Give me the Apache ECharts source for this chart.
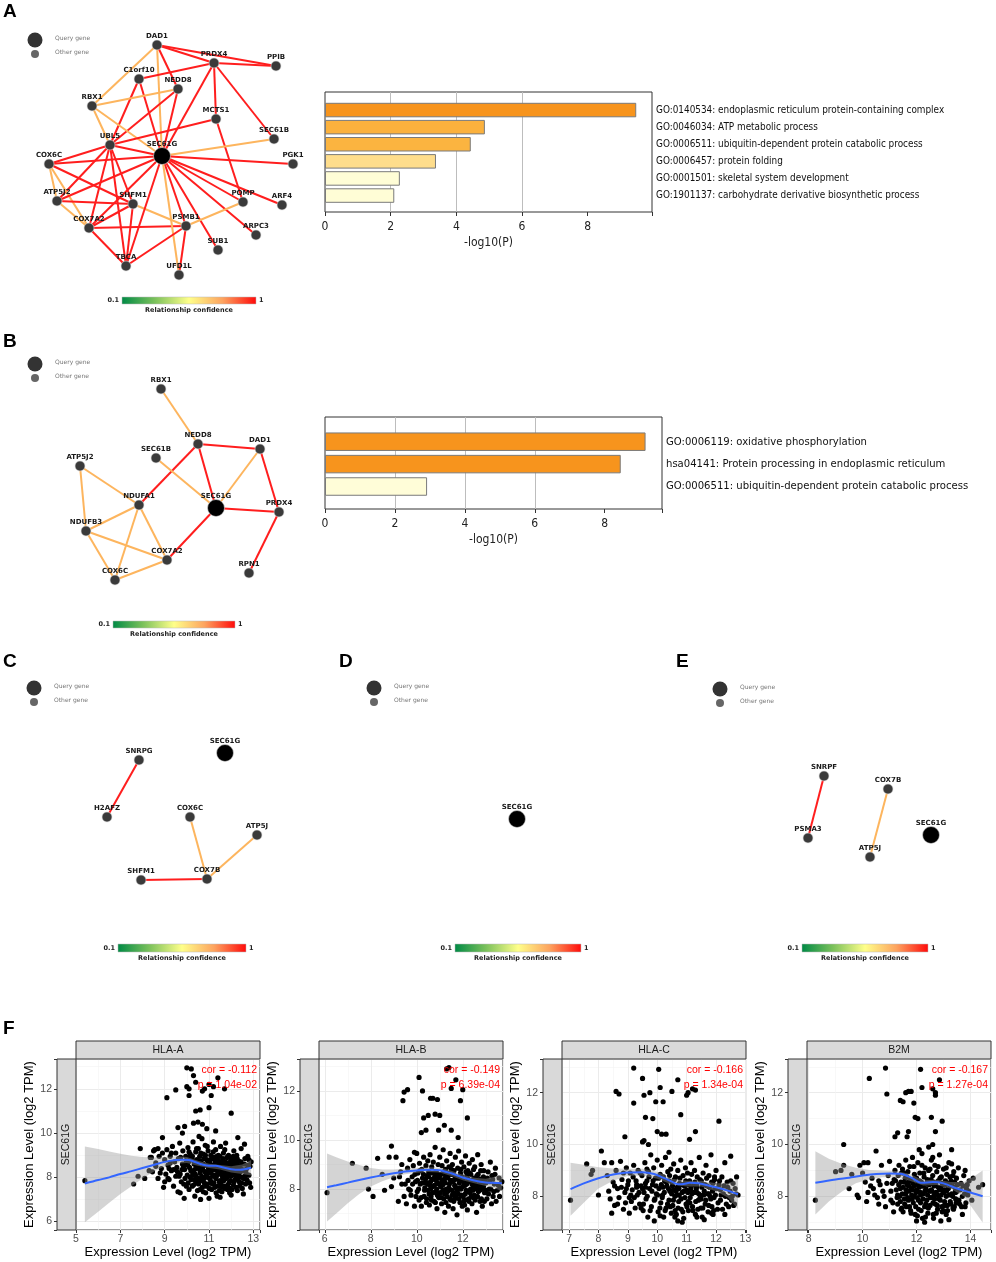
<!DOCTYPE html>
<html><head><meta charset="utf-8">
<script src="https://cdn.jsdelivr.net/npm/echarts/dist/echarts.min.js"></script>
<style>html,body{margin:0;padding:0;background:#fff}#c{width:996px;height:1262px}</style>
</head><body><div id="c"></div><script>
// ---------------- DATA ----------------
const R = 1.0, O = 0.7; // relationship confidence
const nodesA = [['SEC61G',162,156,1],['DAD1',157,45,0],['PRDX4',214,63,0],['PPIB',276,66,0],['C1orf10',139,79,0],['NEDD8',178,89,0],['RBX1',92,106,0],['MCTS1',216,119,0],['SEC61B',274,139,0],['UBL5',110,145,0],['COX6C',49,164,0],['PGK1',293,164,0],['ATP5J2',57,201,0],['SHFM1',133,204,0],['POMP',243,202,0],['ARF4',282,205,0],['COX7A2',89,228,0],['PSMB1',186,226,0],['ARPC3',256,235,0],['SUB1',218,250,0],['TBCA',126,266,0],['UFD1L',179,275,0]];
const edgesA = [['DAD1','PRDX4',R],['DAD1','PPIB',R],['PRDX4','PPIB',R],['DAD1','RBX1',O],['DAD1','SEC61G',O],['DAD1','NEDD8',R],['PRDX4','C1orf10',R],['PRDX4','MCTS1',R],['PRDX4','SEC61B',R],['PRDX4','SEC61G',R],['C1orf10','UBL5',R],['C1orf10','SEC61G',R],['NEDD8','RBX1',O],['NEDD8','UBL5',R],['NEDD8','SEC61G',R],['RBX1','UBL5',O],['RBX1','SEC61G',O],['MCTS1','UBL5',R],['MCTS1','POMP',R],['SEC61B','SEC61G',O],['PGK1','SEC61G',R],['UBL5','COX6C',R],['UBL5','SEC61G',R],['UBL5','ATP5J2',R],['UBL5','COX7A2',R],['UBL5','SHFM1',R],['UBL5','TBCA',R],['COX6C','SEC61G',R],['COX6C','SHFM1',R],['COX6C','ATP5J2',O],['COX6C','COX7A2',O],['ATP5J2','SHFM1',R],['ATP5J2','SEC61G',R],['ATP5J2','COX7A2',O],['COX7A2','SHFM1',R],['COX7A2','SEC61G',R],['COX7A2','PSMB1',R],['COX7A2','TBCA',R],['SHFM1','TBCA',R],['SHFM1','PSMB1',O],['SEC61G','TBCA',R],['SEC61G','PSMB1',R],['SEC61G','UFD1L',O],['SEC61G','SUB1',R],['SEC61G','ARPC3',R],['SEC61G','POMP',R],['SEC61G','ARF4',R],['PSMB1','POMP',O],['PSMB1','UFD1L',R],['PSMB1','TBCA',R]];
const nodesB = [['SEC61G',216,178,1],['RBX1',161,59,0],['NEDD8',198,114,0],['DAD1',260,119,0],['SEC61B',156,128,0],['ATP5J2',80,136,0],['NDUFA1',139,175,0],['PRDX4',279,182,0],['NDUFB3',86,201,0],['COX7A2',167,230,0],['RPN1',249,243,0],['COX6C',115,250,0]];
const edgesB = [['RBX1','NEDD8',O],['NEDD8','DAD1',R],['NEDD8','SEC61G',R],['NEDD8','NDUFA1',R],['DAD1','SEC61G',O],['DAD1','PRDX4',R],['SEC61G','PRDX4',R],['PRDX4','RPN1',R],['SEC61B','SEC61G',O],['SEC61G','COX7A2',R],['ATP5J2','NDUFA1',O],['ATP5J2','NDUFB3',O],['NDUFA1','NDUFB3',O],['NDUFA1','COX6C',O],['NDUFA1','COX7A2',O],['NDUFB3','COX7A2',O],['NDUFB3','COX6C',O],['COX6C','COX7A2',O]];
const nodesC = [['SEC61G',225,103,1],['SNRPG',139,110,0],['H2AFZ',107,167,0],['COX6C',190,167,0],['ATP5J',257,185,0],['SHFM1',141,230,0],['COX7B',207,229,0]];
const edgesC = [['SNRPG','H2AFZ',R],['COX6C','COX7B',O],['ATP5J','COX7B',O],['SHFM1','COX7B',R]];
const nodesD = [['SEC61G',187,169,1]];
const edgesD = [];
const nodesE = [['SEC61G',271,185,1],['SNRPF',164,126,0],['COX7B',228,139,0],['PSMA3',148,188,0],['ATP5J',210,207,0]];
const edgesE = [['SNRPF','PSMA3',R],['COX7B','ATP5J',O]];

const termsA = ['GO:0140534: endoplasmic reticulum protein-containing complex','GO:0046034: ATP metabolic process','GO:0006511: ubiquitin-dependent protein catabolic process','GO:0006457: protein folding','GO:0001501: skeletal system development','GO:1901137: carbohydrate derivative biosynthetic process'];
const logPA = [9.48, 4.87, 4.44, 3.38, 2.28, 2.11];
const termsB = ['GO:0006119: oxidative phosphorylation','hsa04141: Protein processing in endoplasmic reticulum','GO:0006511: ubiquitin-dependent protein catabolic process'];
const logPB = [9.17, 8.46, 2.92];

// Panel F scatter data [x, y]
const ptsHLAA = [[5.4,7.85],[7.6,7.7],[7.8,8.05],[7.9,9.3],[8.1,7.95],[8.3,8.3],[8.4,8.9],[8.5,9.2],[8.6,8.5],[8.7,9.3],[8.8,8.2],[8.9,9.8],[9.0,7.8],[9.1,11.6],[9.2,8.4],[9.3,9.1],[9.5,11.95],[9.7,7.3],[9.8,10.0],[9.9,10.3],[10.0,12.1],[10.0,12.95],[10.1,11.7],[10.1,12.0],[10.2,12.9],[10.3,12.6],[10.4,12.3],[10.4,11.0],[10.6,11.05],[10.5,10.5],[10.7,10.4],[10.7,11.9],[10.8,12.0],[10.9,10.2],[11.0,12.2],[11.1,11.7],[11.0,11.15],[11.2,12.1],[11.4,12.5],[11.7,12.0],[12.0,10.9],[12.3,9.8],[11.5,7.1],[12.5,7.5],[12.7,7.9],[12.9,8.7],[12.8,8.8],[12.6,9.5],[10.3,10.45],[10.55,9.85],[11.3,10.1],[9.6,10.25],
[8.35,8.9],[8.45,8.25],[8.55,9.25],[8.6,8.65],[8.7,7.95],[8.75,8.95],[8.85,8.4],[8.9,9.1],[8.95,7.55],[9.0,8.8],
[9.05,8.15],[9.1,9.25],[9.15,8.55],[9.2,7.9],[9.25,8.95],[9.3,8.3],[9.35,9.4],[9.4,7.6],[9.45,8.7],[9.5,8.05],[9.5,9.1],
[9.55,8.45],[9.6,7.35],[9.62,8.85],[9.68,9.55],[9.7,8.15],[9.75,7.8],[9.8,8.6],[9.82,9.2],[9.88,7.05],[9.9,8.35],[9.95,8.95],[9.98,7.6],
[10.02,8.1],[10.05,9.35],[10.08,8.7],[10.1,7.45],[10.12,8.45],[10.15,9.05],[10.2,7.9],[10.22,8.85],[10.25,8.25],[10.28,9.6],[10.3,7.65],[10.33,8.6],[10.36,7.15],[10.4,9.15],[10.42,8.05],[10.45,8.8],[10.48,7.4],
[10.5,8.5],[10.52,9.3],[10.55,7.85],[10.58,8.95],[10.6,8.2],[10.62,7.0],[10.65,8.65],[10.68,9.75],[10.7,7.55],[10.72,8.35],[10.75,9.05],[10.78,7.95],[10.8,8.55],[10.83,9.45],[10.85,7.3],[10.88,8.1],[10.9,8.8],[10.93,7.7],[10.96,9.2],[10.98,8.4],
[11.0,7.05],[11.02,8.65],[11.05,7.9],[11.08,9.0],[11.1,8.25],[11.12,7.45],[11.15,8.9],[11.18,8.45],[11.2,9.6],[11.22,7.75],[11.25,8.6],[11.28,8.05],[11.3,9.25],[11.32,7.3],[11.35,8.35],[11.38,8.8],[11.4,7.6],[11.42,9.0],[11.45,8.15],[11.48,8.55],
[11.5,7.85],[11.52,9.4],[11.55,8.4],[11.58,7.35],[11.6,8.75],[11.62,8.0],[11.65,9.1],[11.68,7.6],[11.7,8.5],[11.72,8.2],[11.75,9.55],[11.78,7.95],[11.8,8.65],[11.83,7.45],[11.85,8.3],[11.88,9.0],[11.9,7.75],[11.95,8.45],[11.98,8.85],
[12.0,7.2],[12.03,8.1],[12.06,8.7],[12.1,7.65],[12.12,9.2],[12.15,8.35],[12.18,7.9],[12.2,8.55],[12.25,9.0],[12.28,7.4],[12.3,8.2],[12.33,8.75],[12.36,7.8],[12.4,8.45],[12.45,9.3],[12.48,8.0],
[12.5,8.6],[12.55,7.25],[12.58,8.3],[12.62,8.85],[12.65,7.7],[12.7,8.4],[12.75,8.95],[12.8,8.1],[12.85,8.5],[12.88,7.55],
[10.15,8.0],[10.35,8.35],[10.6,8.75],[10.85,8.25],[11.05,8.45],[11.25,8.1],[11.45,8.7],[11.65,8.35],[11.85,8.05],[12.05,8.4],[12.25,8.65],[10.4,7.75],[10.7,8.0],[11.15,7.7],[11.55,7.6],[11.95,7.5],[12.35,8.1],[9.85,8.5],[10.25,8.95],[10.75,8.6],[11.35,8.95],[11.75,8.15],[12.15,8.85],[12.6,8.05],
[9.58,8.25],[9.72,8.9],[9.92,7.95],[10.04,8.55],[10.1,9.15],[10.18,8.3],[10.24,7.6],[10.3,8.75],[10.38,8.15],[10.44,9.3],[10.47,8.45],[10.53,7.7],[10.57,8.35],[10.63,9.1],[10.66,7.85],[10.69,8.45],[10.74,7.35],[10.77,8.85],[10.81,8.25],[10.84,9.0],[10.87,7.6],[10.91,8.55],[10.94,8.0],[10.97,8.7],[11.01,7.5],[11.04,8.2],[11.07,8.8],[11.09,7.8],[11.13,8.55],[11.16,8.05],[11.19,9.15],[11.23,8.35],[11.26,7.55],[11.29,8.75],[11.31,7.95],[11.34,8.5],[11.37,7.15],[11.39,8.25],[11.43,8.65],[11.46,7.8],[11.49,8.95],[11.51,8.2],[11.54,7.7],[11.57,8.6],[11.59,8.1],[11.63,8.85],[11.66,7.85],[11.69,8.3],[11.71,9.25],[11.74,7.5],[11.77,8.45],[11.79,8.0],[11.81,8.9],[11.84,7.65],[11.87,8.55],[11.89,8.2],[11.93,7.3],[11.96,8.7],[11.99,8.05],[12.01,8.55],[12.04,7.45],[12.07,8.3],[12.09,8.95],[12.13,7.8],[12.16,8.6],[12.19,8.15],[12.22,7.55],[12.24,8.4],[12.27,8.85],[12.31,7.95],[12.34,8.5],[12.38,7.6],[12.42,8.25],[12.44,8.7],[12.47,7.75],[12.52,8.35],[12.57,7.95],[12.6,8.6],[12.67,8.2],[12.72,7.85],[12.78,8.55],[12.83,7.75],[10.06,7.75],[10.13,8.9],[10.26,8.1],[10.34,7.9],[10.41,8.55],[10.5,7.95],[10.59,7.45],[10.67,8.05],[10.79,7.75],[10.92,9.4],[11.06,8.35],[11.21,8.9],[11.33,8.05],[11.47,7.4],[11.61,7.55],[11.73,8.7],[11.86,8.1],[11.97,7.85],[12.11,8.25],[12.23,8.0],[12.37,8.3],[9.65,8.05],[9.78,8.35],[9.86,7.7],[9.96,8.65],[9.4,8.35],[9.25,8.65],[9.15,7.95]];

const ptsHLAB = [[6.1,7.85],[7.2,9.05],[7.8,8.85],[7.9,8.0],[8.1,7.7],[8.3,9.25],[8.6,7.95],[8.8,9.3],[8.9,9.75],[8.9,8.1],[9.1,9.3],[9.3,8.7],[9.4,11.6],[9.45,11.95],[9.6,12.05],[9.9,9.5],[10.1,12.55],[10.25,12.0],[10.2,10.3],[10.4,10.4],[10.5,11.0],[10.6,11.7],[10.7,11.7],[10.8,11.05],[10.9,11.65],[10.95,10.4],[11.0,11.0],[11.3,12.9],[11.4,12.95],[11.5,12.1],[11.7,12.45],[11.9,11.6],[12.0,12.05],[11.2,10.6],[11.5,10.4],[12.2,10.9],[11.8,10.1],[10.3,10.9],[9.0,8.45],[9.2,7.5],[8.5,8.6],[9.35,9.0],
[9.5,8.2],[9.55,7.4],[9.6,8.85],[9.65,8.0],[9.7,9.2],[9.75,7.75],[9.8,8.5],[9.85,8.95],[9.9,7.3],[9.95,8.3],
[10.0,9.45],[10.02,7.9],[10.05,8.65],[10.1,7.55],[10.12,9.05],[10.15,8.2],[10.2,7.3],[10.22,8.8],[10.25,8.45],[10.3,9.3],[10.32,7.7],[10.35,8.05],[10.4,8.95],[10.42,7.45],[10.45,8.55],[10.48,9.15],
[10.5,7.95],[10.52,8.7],[10.55,7.35],[10.58,9.4],[10.6,8.3],[10.62,7.7],[10.65,8.9],[10.7,8.1],[10.72,9.1],[10.75,7.5],[10.78,8.5],[10.8,9.7],[10.82,7.9],[10.85,8.7],[10.88,7.2],[10.9,8.25],[10.93,9.0],[10.96,7.65],[10.98,8.45],
[11.0,9.3],[11.02,7.85],[11.05,8.6],[11.08,7.4],[11.1,8.95],[11.12,8.15],[11.15,9.6],[11.18,7.6],[11.2,8.4],[11.22,7.05],[11.25,8.8],[11.28,8.0],[11.3,9.15],[11.32,7.7],[11.35,8.5],[11.38,7.3],[11.4,8.9],[11.42,8.2],[11.45,9.45],[11.48,7.55],
[11.5,8.6],[11.52,7.95],[11.55,9.0],[11.58,7.2],[11.6,8.35],[11.62,8.75],[11.65,7.6],[11.68,9.3],[11.7,8.05],[11.72,8.5],[11.75,6.95],[11.78,8.85],[11.8,7.8],[11.82,9.55],[11.85,8.25],[11.88,7.45],[11.9,8.65],[11.92,8.0],[11.95,9.1],[11.98,7.3],
[12.0,8.4],[12.02,7.7],[12.05,8.9],[12.08,7.35],[12.1,8.15],[12.12,9.35],[12.15,7.95],[12.18,8.55],[12.2,7.15],[12.22,8.75],[12.25,7.6],[12.28,9.05],[12.3,8.3],[12.32,7.85],[12.35,8.6],[12.4,7.4],[12.42,9.2],[12.45,8.05],[12.48,8.45],
[12.5,7.75],[12.52,8.9],[12.55,8.2],[12.6,7.05],[12.62,8.55],[12.65,9.4],[12.68,7.9],[12.7,8.35],[12.75,7.5],[12.78,8.75],[12.8,9.0],[12.82,8.1],[12.85,7.3],[12.9,8.5],[12.95,7.85],
[13.0,8.25],[13.05,7.6],[13.1,8.7],[13.15,8.0],[13.2,9.1],[13.25,7.4],[13.3,8.4],[13.35,7.9],[13.4,8.6],[13.45,7.5],[13.55,8.15],[13.6,7.7],[13.7,8.3],
[10.6,8.0],[10.9,7.75],[11.1,8.3],[11.4,8.05],[11.6,7.85],[11.9,8.35],[12.1,7.55],[12.4,8.2],[12.6,8.05],[12.9,8.1],[11.25,8.55],[11.65,8.15],[12.05,8.25],[12.45,7.65],[10.4,8.25],[10.75,8.4],
[10.03,8.35],[10.08,8.0],[10.14,8.75],[10.19,7.65],[10.24,8.25],[10.29,8.6],[10.34,7.95],[10.38,8.4],[10.43,7.6],[10.47,8.2],[10.51,8.5],[10.54,7.8],[10.57,8.15],[10.61,8.65],[10.64,7.55],[10.67,8.4],[10.71,7.85],[10.74,8.65],[10.77,8.15],[10.81,7.45],[10.84,8.35],[10.87,8.0],[10.91,8.6],[10.94,7.7],[10.97,8.2],[11.01,8.55],[11.04,8.1],[11.07,7.65],[11.11,8.35],[11.14,7.95],[11.17,8.7],[11.21,7.8],[11.24,8.25],[11.27,7.45],[11.31,8.45],[11.34,7.9],[11.37,8.65],[11.41,8.0],[11.44,7.6],[11.47,8.35],[11.51,8.8],[11.54,7.75],[11.57,8.3],[11.61,7.5],[11.64,8.55],[11.67,8.1],[11.71,7.7],[11.74,8.4],[11.77,7.95],[11.81,8.45],[11.84,7.6],[11.87,8.05],[11.91,8.8],[11.94,7.75],[11.97,8.5],[12.01,8.1],[12.04,7.5],[12.07,8.3],[12.11,7.8],[12.14,8.7],[12.17,8.2],[12.21,7.9],[12.24,8.4],[12.27,7.5],[12.31,8.65],[12.34,8.0],[12.37,7.7],[12.41,8.35],[12.44,7.95],[12.47,8.8],[12.51,8.3],[12.54,7.55],[12.57,8.45],[12.61,8.0],[12.64,7.7],[12.67,8.6],[12.71,8.15],[12.74,7.95],[12.77,8.4],[12.81,7.6],[12.84,8.3],[12.87,8.0],[12.91,8.75],[12.94,7.5],[12.97,8.4],[13.02,7.95],[13.07,8.45],[13.12,7.8],[13.17,8.3],[13.22,8.0],[13.27,8.55],[13.32,7.7],[13.37,8.2],[13.42,8.85],[13.5,7.95],[13.58,8.45],[13.65,8.05],[9.62,8.35],[9.72,7.95],[9.82,8.2],[9.92,8.6],[9.97,7.7],[9.35,8.2],[9.45,7.7],[9.25,8.5]];

const ptsHLAC = [[7.05,7.85],[7.6,9.25],[7.75,8.85],[7.8,9.0],[8.0,8.05],[8.1,9.75],[8.2,9.3],[8.4,7.9],[8.45,7.35],[8.6,12.05],[8.7,11.95],[8.9,10.3],[9.2,12.95],[9.2,11.6],[9.5,12.55],[9.55,11.9],[9.6,11.05],[9.75,12.0],[9.85,11.0],[9.95,11.65],[10.05,12.9],[10.1,12.2],[10.2,11.65],[10.0,10.5],[10.3,10.4],[10.5,12.05],[10.7,12.5],[10.8,11.15],[11.0,11.9],[11.05,12.0],[11.2,12.15],[11.3,12.1],[11.1,10.2],[11.3,10.5],[12.1,10.9],[9.5,10.1],[9.7,10.0],[10.4,9.7],[12.5,9.55],[12.7,8.75],[12.75,8.05],[11.6,7.1],[10.7,7.05],[9.9,7.05],[10.85,7.0],[12.3,7.3],[10.15,10.4],[9.55,10.15],
[8.3,8.8],[8.35,8.2],[8.45,9.3],[8.5,8.55],[8.55,7.65],[8.6,9.0],[8.65,8.3],[8.7,7.95],[8.75,9.35],[8.8,8.65],[8.85,7.5],[8.9,8.15],[8.95,9.1],
[9.0,8.45],[9.05,7.35],[9.08,8.9],[9.12,7.8],[9.15,8.25],[9.2,9.2],[9.25,7.55],[9.28,8.6],[9.32,8.05],[9.35,9.0],[9.4,7.7],[9.45,8.4],[9.48,8.8],
[9.52,7.45],[9.55,8.15],[9.58,9.3],[9.62,7.9],[9.65,8.6],[9.68,7.2],[9.7,8.95],[9.74,8.3],[9.78,9.6],[9.8,7.6],[9.84,8.45],[9.88,9.1],[9.9,7.85],[9.94,8.7],[9.97,8.1],
[10.0,9.4],[10.03,7.4],[10.06,8.3],[10.1,8.85],[10.12,7.75],[10.15,9.2],[10.18,8.05],[10.22,7.2],[10.25,8.6],[10.28,9.5],[10.3,7.55],[10.33,8.4],[10.36,8.95],[10.4,7.85],[10.43,8.2],[10.46,9.05],[10.48,7.35],
[10.5,8.55],[10.53,7.65],[10.56,9.25],[10.6,8.0],[10.62,8.75],[10.65,7.3],[10.68,8.35],[10.7,9.0],[10.73,7.8],[10.76,8.5],[10.8,9.4],[10.82,7.5],[10.85,8.15],[10.88,8.8],[10.9,7.15],[10.93,8.4],[10.96,9.1],[10.98,7.7],
[11.0,8.25],[11.03,8.9],[11.06,7.45],[11.1,8.6],[11.12,7.95],[11.15,9.3],[11.18,8.1],[11.2,7.6],[11.24,8.45],[11.27,9.0],[11.3,7.3],[11.33,8.3],[11.36,8.75],[11.4,7.85],[11.43,9.5],[11.46,8.05],[11.48,7.55],
[11.5,8.6],[11.53,7.2],[11.56,8.9],[11.6,8.2],[11.63,7.7],[11.66,9.2],[11.7,8.4],[11.73,7.4],[11.76,8.8],[11.8,8.0],[11.83,9.6],[11.86,7.6],[11.9,8.5],[11.93,7.95],[11.96,8.3],
[12.0,9.0],[12.05,7.5],[12.1,8.45],[12.15,7.85],[12.2,8.75],[12.25,8.1],[12.3,9.3],[12.35,7.7],[12.4,8.35],[12.45,7.95],[12.5,8.6],[12.55,8.0],[12.6,7.65],[12.65,8.3],
[10.2,8.35],[10.55,8.25],[10.75,8.05],[10.95,8.5],[11.15,8.35],[11.35,8.15],[11.55,8.45],[11.75,8.1],[11.95,8.65],[12.15,8.25],[9.6,8.35],[9.3,8.35],[10.4,8.6],[11.05,7.8],[11.45,7.9],[11.85,7.35],
[8.78,8.35],[8.92,7.75],[9.02,8.6],[9.1,8.05],[9.18,8.75],[9.22,7.95],[9.3,8.45],[9.38,8.15],[9.42,8.9],[9.5,8.3],[9.53,7.7],[9.6,8.5],[9.66,8.0],[9.72,8.75],[9.76,7.45],[9.82,8.2],[9.86,8.6],[9.92,7.9],[9.96,8.4],[10.01,8.05],[10.05,8.7],[10.09,7.55],[10.14,8.45],[10.17,7.95],[10.21,8.75],[10.24,8.15],[10.27,7.45],[10.31,8.55],[10.35,7.7],[10.38,8.3],[10.42,8.8],[10.45,7.6],[10.49,8.1],[10.52,8.4],[10.55,7.85],[10.58,8.65],[10.61,7.45],[10.64,8.2],[10.67,8.05],[10.71,7.55],[10.74,8.3],[10.77,8.7],[10.81,7.9],[10.84,8.45],[10.87,7.4],[10.91,8.2],[10.94,7.95],[10.97,8.6],[11.01,7.6],[11.04,8.15],[11.08,8.45],[11.11,7.75],[11.14,8.25],[11.17,8.85],[11.21,7.45],[11.25,8.15],[11.28,8.55],[11.31,7.8],[11.35,8.4],[11.38,7.5],[11.41,8.1],[11.45,8.65],[11.49,7.9],[11.52,8.35],[11.55,7.55],[11.58,8.05],[11.62,8.45],[11.65,7.85],[11.68,8.7],[11.72,8.1],[11.75,7.65],[11.78,8.35],[11.82,7.9],[11.85,8.55],[11.88,8.2],[11.92,7.45],[11.95,8.75],[11.98,8.05],[12.02,8.3],[12.07,7.75],[12.12,8.6],[12.17,8.05],[12.22,7.5],[12.27,8.4],[12.32,8.0],[12.38,8.55],[12.43,7.6],[12.48,8.2],[12.53,7.85],[12.58,8.5],[12.63,7.7],[12.68,8.1],[8.55,8.4],[8.65,7.7],[8.85,8.9],[8.95,8.3],[9.05,7.95],[9.45,7.55],[9.65,9.05],[10.1,7.25],[10.6,7.2],[11.35,7.2],[11.9,7.3]];

const ptsB2M = [[8.25,7.85],[9.0,8.95],[9.3,9.2],[9.3,10.0],[9.2,9.0],[9.8,8.05],[9.85,7.95],[10.0,8.9],[10.05,9.3],[10.15,7.8],[10.2,9.3],[10.25,12.55],[10.35,8.7],[10.5,9.75],[10.85,12.95],[10.9,11.95],[11.2,10.3],[11.4,11.7],[11.5,11.65],[11.6,12.0],[11.7,12.05],[11.8,12.05],[11.9,11.6],[11.95,11.05],[12.05,11.0],[12.15,12.9],[12.2,12.2],[12.55,11.05],[12.6,12.15],[12.7,12.0],[12.7,11.9],[12.85,12.5],[12.95,10.9],[11.7,10.5],[11.65,10.3],[12.1,9.8],[12.45,9.9],[12.7,10.5],[13.3,9.8],[13.8,9.0],[14.1,8.7],[14.45,8.45],[14.3,8.35],[14.05,7.85],[12.0,7.05],[12.3,7.0],[12.9,7.05],[13.2,7.1],[11.5,7.4],[11.8,7.35],[13.1,7.3],[13.7,7.3],[11.3,10.45],[12.6,10.0],
[10.3,8.4],[10.45,8.05],[10.6,7.7],[10.6,8.6],[10.7,9.2],[10.75,8.2],[10.85,7.6],[10.95,8.8],[11.0,9.35],[11.05,7.85],[11.1,8.5],[11.15,7.4],[11.2,9.0],
[11.25,8.25],[11.3,7.7],[11.32,8.8],[11.35,9.2],[11.38,8.0],[11.42,8.55],[11.45,7.55],[11.48,9.05],[11.5,8.35],[11.55,7.9],[11.58,8.7],
[11.6,9.4],[11.62,7.6],[11.65,8.45],[11.68,8.95],[11.7,7.85],[11.72,8.2],[11.75,9.15],[11.78,7.45],[11.8,8.6],[11.82,8.05],[11.85,9.5],[11.88,7.75],[11.9,8.4],[11.92,8.85],[11.95,7.3],[11.98,8.15],
[12.0,8.7],[12.02,7.95],[12.05,9.3],[12.08,7.5],[12.1,8.35],[12.12,8.9],[12.15,7.75],[12.18,8.55],[12.2,9.65],[12.22,7.15],[12.25,8.1],[12.28,8.75],[12.3,7.6],[12.32,9.1],[12.35,8.3],[12.38,7.85],[12.4,8.65],[12.42,7.35],[12.45,9.0],[12.48,8.2],
[12.5,7.65],[12.52,8.5],[12.55,9.4],[12.58,7.95],[12.6,8.8],[12.62,7.3],[12.65,8.4],[12.68,9.2],[12.7,7.7],[12.72,8.15],[12.75,8.95],[12.78,7.5],[12.8,8.6],[12.82,8.0],[12.85,9.6],[12.88,7.85],[12.9,8.35],[12.92,8.75],[12.95,7.4],[12.98,8.2],
[13.0,9.05],[13.03,7.65],[13.06,8.45],[13.1,8.0],[13.12,8.85],[13.15,7.45],[13.18,8.3],[13.2,9.3],[13.25,7.8],[13.28,8.6],[13.3,8.1],[13.35,7.55],[13.38,8.95],[13.42,8.35],[13.45,7.9],[13.48,8.7],
[13.5,8.2],[13.55,9.1],[13.6,7.7],[13.65,8.5],[13.7,8.0],[13.75,8.8],[13.8,7.6],[13.85,8.3],[13.9,8.05],[13.95,8.6],
[11.4,8.3],[11.6,8.1],[11.85,8.25],[12.05,8.45],[12.25,8.4],[12.45,8.55],[12.65,8.05],[12.85,8.25],[13.05,8.25],[13.25,8.45],[13.45,8.15],[12.15,8.05],[12.55,8.25],[12.95,8.5],[13.35,8.8],[11.7,8.55],
[11.22,8.6],[11.28,7.95],[11.34,8.45],[11.4,7.8],[11.44,8.9],[11.47,8.1],[11.53,8.55],[11.56,7.7],[11.61,8.25],[11.64,8.75],[11.67,7.95],[11.71,8.4],[11.74,7.6],[11.77,8.65],[11.81,8.3],[11.84,7.9],[11.87,8.5],[11.91,8.0],[11.94,8.7],[11.97,7.6],[12.01,8.25],[12.04,8.55],[12.07,7.85],[12.11,8.6],[12.14,8.15],[12.17,7.45],[12.21,8.4],[12.24,7.9],[12.27,8.9],[12.31,8.2],[12.34,7.7],[12.37,8.5],[12.41,8.05],[12.44,7.55],[12.47,8.45],[12.51,7.95],[12.54,8.65],[12.57,8.2],[12.61,7.75],[12.64,8.55],[12.67,7.9],[12.71,8.45],[12.74,8.1],[12.77,7.65],[12.81,8.35],[12.84,7.9],[12.87,8.7],[12.91,8.05],[12.94,7.6],[12.97,8.45],[13.01,8.15],[13.04,7.8],[13.07,8.6],[13.11,8.2],[13.14,7.65],[13.17,8.5],[13.21,8.05],[13.24,8.75],[13.27,7.7],[13.31,8.4],[13.34,8.0],[13.37,7.5],[13.41,8.55],[13.44,8.2],[13.47,7.75],[13.52,8.45],[13.57,7.85],[13.62,8.25],[13.67,7.6],[13.72,8.4],[13.78,8.1],[13.83,7.75],[13.88,8.45],[13.93,8.2],[10.4,8.3],[10.55,7.95],[10.65,8.45],[10.8,8.0],[10.9,8.5],[11.05,8.2],[11.12,7.75],[11.17,8.65],[11.3,8.05],[11.43,7.5],[11.53,8.9],[12.03,7.25],[12.33,7.2],[12.63,7.15],[12.73,7.35],[13.0,7.45],[13.4,7.6],[12.2,9.2],[12.5,9.05],[12.8,9.15],[13.1,9.1],[11.9,9.15],[12.6,9.5],[13.3,9.25],[10.1,8.55],[10.2,8.15],[9.6,8.85],[9.9,9.2],[9.5,8.3]];

// smoothing fits [x, y] and confidence bands [x, lower, upper]
const fitHLAA = [[5.4,7.72],[6.0,7.88],[6.5,8.0],[7.0,8.15],[7.5,8.28],[8.0,8.42],[8.5,8.56],[9.0,8.7],[9.5,8.78],[9.8,8.8],[10.1,8.78],[10.4,8.68],[10.7,8.58],[11.0,8.52],[11.3,8.52],[11.6,8.46],[12.0,8.37],[12.4,8.34],[12.9,8.43]];
const bandHLAA = [[5.4,5.97,9.4],[6.0,6.45,9.28],[6.5,6.85,9.17],[7.0,7.25,9.07],[7.5,7.6,8.98],[8.0,7.95,8.92],[8.5,8.25,8.9],[9.0,8.5,8.92],[9.5,8.62,8.95],[10.0,8.65,8.92],[10.5,8.52,8.75],[11.0,8.42,8.62],[11.5,8.35,8.56],[12.0,8.22,8.5],[12.5,8.15,8.58],[12.9,8.08,8.78]];
const fitHLAB = [[6.1,8.07],[6.5,8.15],[7.0,8.26],[7.5,8.37],[8.0,8.47],[8.5,8.56],[9.0,8.64],[9.5,8.71],[10.0,8.76],[10.5,8.79],[11.0,8.77],[11.5,8.64],[12.0,8.47],[12.5,8.35],[13.0,8.27],[13.4,8.25],[13.7,8.24]];
const bandHLAB = [[6.1,6.68,9.45],[6.5,7.0,9.3],[7.0,7.42,9.12],[7.5,7.8,8.98],[8.0,8.1,8.86],[8.5,8.32,8.8],[9.0,8.48,8.8],[9.5,8.6,8.83],[10.0,8.66,8.86],[10.5,8.69,8.89],[11.0,8.67,8.88],[11.5,8.53,8.75],[12.0,8.36,8.58],[12.5,8.24,8.46],[13.0,8.12,8.42],[13.4,8.02,8.5],[13.7,7.92,8.58]];
const fitHLAC = [[7.05,8.28],[7.5,8.5],[8.0,8.7],[8.5,8.84],[9.0,8.92],[9.5,8.93],[9.9,8.86],[10.2,8.72],[10.5,8.57],[10.7,8.47],[10.9,8.48],[11.1,8.52],[11.4,8.5],[11.7,8.43],[12.0,8.35],[12.4,8.22],[12.75,8.08]];
const bandHLAC = [[7.05,7.25,9.3],[7.5,7.75,9.22],[8.0,8.3,9.12],[8.5,8.6,9.07],[9.0,8.78,9.06],[9.5,8.8,9.06],[10.0,8.68,8.95],[10.5,8.46,8.68],[11.0,8.38,8.6],[11.5,8.38,8.6],[12.0,8.2,8.5],[12.4,7.95,8.5],[12.75,7.5,8.65]];
const fitB2M = [[8.25,8.52],[9.0,8.65],[9.5,8.72],[10.0,8.8],[10.5,8.86],[11.0,8.88],[11.4,8.87],[11.8,8.72],[12.2,8.52],[12.6,8.55],[13.0,8.5],[13.5,8.3],[14.0,8.15],[14.45,8.0]];
const bandB2M = [[8.25,7.3,9.74],[8.75,7.8,9.45],[9.25,8.2,9.25],[9.75,8.5,9.1],[10.25,8.66,9.02],[10.75,8.74,9.0],[11.25,8.74,8.98],[11.75,8.6,8.86],[12.25,8.42,8.62],[12.75,8.44,8.64],[13.25,8.3,8.55],[13.75,8.0,8.55],[14.1,7.5,8.75],[14.45,6.99,9.0]];

const genes = ['HLA-A','HLA-B','HLA-C','B2M'];
const corText = ['cor = -0.112','cor = -0.149','cor = -0.166','cor = -0.167'];
const pText = ['p = 1.04e-02','p = 6.39e-04','p = 1.34e-04','p = 1.27e-04'];

// ---------------- BUILD ----------------
const grids = [], xAxes = [], yAxes = [], series = [], graphic = [];
function addGrid(g, xa, ya) { grids.push(g); const i = grids.length - 1; xa.gridIndex = i; ya.gridIndex = i; xAxes.push(xa); yAxes.push(ya); return i; }
const RED = '#FF1E1E', ORANGE = '#FDB55E';
function txt(x, y, s, font, fill, align, valign, rot) {
  const e = { type: 'text', x: x, y: y, z: 20, silent: true, style: { text: s, font: font, fill: fill || '#000', textAlign: align || 'left', align: align || 'left', textVerticalAlign: valign || 'middle', verticalAlign: valign || 'middle' } };
  if (rot) e.rotation = rot;
  graphic.push(e);
}

// network panels
const nets = [
  { nodes: nodesA, edges: edgesA, ox: 0, oy: 0, w: 320, h: 320, letter: 'A', lx: 3, cb: [122, 297, 134, 7] },
  { nodes: nodesB, edges: edgesB, ox: 0, oy: 330, w: 320, h: 310, letter: 'B', lx: 3, cb: [113, 621, 122, 7] },
  { nodes: nodesC, edges: edgesC, ox: 0, oy: 650, w: 330, h: 320, letter: 'C', lx: 3, cb: [118, 944, 128, 8] },
  { nodes: nodesD, edges: edgesD, ox: 330, oy: 650, w: 330, h: 320, letter: 'D', lx: 339, cb: [455, 944, 126, 8] },
  { nodes: nodesE, edges: edgesE, ox: 660, oy: 650, w: 336, h: 320, letter: 'E', lx: 676, cb: [802, 944, 126, 8] }
];
const legOff = [[35, 40], [35, 34], [34, 38], [44, 38], [60, 39]];
nets.forEach(function (p, k) {
  const i = addGrid({ left: p.ox, top: p.oy, width: p.w, height: p.h, show: false },
    { type: 'value', min: 0, max: p.w, show: false },
    { type: 'value', min: 0, max: p.h, inverse: true, show: false });
  series.push({
    type: 'graph', coordinateSystem: 'cartesian2d', xAxisIndex: i, yAxisIndex: i, silent: true, animation: false,
    data: p.nodes.map(function (n) { return { name: n[0], value: [n[1], n[2]], symbolSize: n[3] ? 17 : 10, itemStyle: { color: n[3] ? '#000' : '#3a3a3a', borderColor: '#ddd', borderWidth: 0.6 } }; }),
    links: p.edges.map(function (e) { return { source: e[0], target: e[1], lineStyle: { color: e[2] >= 0.9 ? RED : ORANGE, width: 2, opacity: 1 } }; }),
    label: { show: true, position: 'top', distance: 0, fontSize: 7, fontWeight: 'bold', color: '#1a1a1a', fontFamily: 'DejaVu Sans' },
    lineStyle: { curveness: 0 }, emphasis: { disabled: true }
  });
  txt(p.lx, p.oy + 12, p.letter, 'bold 19px "Liberation Sans"', '#000', 'left', 'middle');
  const lx = p.ox + legOff[k][0], ly = p.oy + legOff[k][1];
  graphic.push({ type: 'circle', silent: true, shape: { cx: lx, cy: ly, r: 7.5 }, style: { fill: '#333' } });
  graphic.push({ type: 'circle', silent: true, shape: { cx: lx, cy: ly + 14, r: 4 }, style: { fill: '#666' } });
  txt(lx + 20, ly - 2, 'Query gene', '6px "DejaVu Sans"', '#777');
  txt(lx + 20, ly + 12, 'Other gene', '6px "DejaVu Sans"', '#777');
  const c = p.cb;
  graphic.push({ type: 'rect', silent: true, shape: { x: c[0], y: c[1], width: c[2], height: c[3] },
    style: { fill: new echarts.graphic.LinearGradient(0, 0, 1, 0, [{ offset: 0, color: '#008A45' }, { offset: 0.25, color: '#7DC25C' }, { offset: 0.5, color: '#FFFF8A' }, { offset: 0.75, color: '#FDA35F' }, { offset: 1, color: '#FF0A0A' }]), stroke: '#bbb', lineWidth: 0.5 } });
  txt(c[0] - 3, c[1] + c[3] / 2, '0.1', 'bold 6.5px "DejaVu Sans"', '#222', 'right');
  txt(c[0] + c[2] + 3, c[1] + c[3] / 2, '1', 'bold 6.5px "DejaVu Sans"', '#222', 'left');
  txt(c[0] + c[2] / 2, c[1] + c[3] + 6, 'Relationship confidence', 'bold 6.5px "DejaVu Sans"', '#222', 'center');
});

// enrichment bar charts
function barChart(terms, vals, colors, box, barTop, slot, barW, xmax, fs) {
  const fmt = function (v) { return Math.abs(v - Math.round(v)) < 1e-6 ? String(Math.round(v)) : ''; };
  addGrid({ left: box[0], top: box[1], width: box[2], height: box[3], show: true, borderColor: '#333', borderWidth: 1 },
    { type: 'value', min: 0, max: xmax, interval: 2, axisLine: { show: false },
      axisTick: { show: true, length: 4, lineStyle: { color: '#333' } },
      axisLabel: { fontSize: 12, color: '#222', fontFamily: 'DejaVu Sans Condensed', margin: 9, formatter: fmt },
      splitLine: { show: true, lineStyle: { color: ['rgba(0,0,0,0)', '#bdbdbd', '#bdbdbd', '#bdbdbd', 'rgba(0,0,0,0)', 'rgba(0,0,0,0)'], width: 1 } },
      name: '-log10(P)', nameLocation: 'middle', nameGap: 25, nameTextStyle: { fontSize: 12, color: '#222', fontFamily: 'DejaVu Sans Condensed' } },
    { type: 'value', min: 0, max: 1, show: false });
  const i = addGrid({ left: box[0], top: barTop, width: box[2], height: slot * terms.length, show: false },
    { type: 'value', min: 0, max: xmax, show: false },
    { type: 'category', data: terms, inverse: true, position: 'right', axisLine: { show: false }, axisTick: { show: false },
      axisLabel: { show: true, align: 'left', margin: 4, fontSize: fs, color: '#111', fontFamily: 'DejaVu Sans Condensed' } });
  series.push({ type: 'bar', xAxisIndex: i, yAxisIndex: i, silent: true, animation: false, barWidth: barW,
    data: vals.map(function (v, k) { return { value: v, itemStyle: { color: colors[k], borderColor: '#7a7a7a', borderWidth: 1 } }; }) });
}
barChart(termsA, logPA, ['#F7941D', '#FBB13D', '#FBB440', '#FEDD8C', '#FFFDD6', '#FFFDD6'], [325, 92, 327, 120], 101.5, 17.1, 14.5, 9.96, 9.9);
barChart(termsB, logPB, ['#F7941D', '#F7941D', '#FFFDD8'], [325, 417, 337, 92], 430.5, 22.4, 18.5, 9.64, 11.2);

// panel F scatter plots
const scat = [
  { pts: ptsHLAA, fit: fitHLAA, band: bandHLAA, left: 76, xr: [5, 13.3], xInt: 2, yr: [5.62, 13.35] },
  { pts: ptsHLAB, fit: fitHLAB, band: bandHLAB, left: 319, xr: [5.75, 13.75], xSplit: 4, yr: [6.33, 13.3] },
  { pts: ptsHLAC, fit: fitHLAC, band: bandHLAC, left: 562, xr: [6.76, 13.02], xSplit: 6, yr: [6.7, 13.3] },
  { pts: ptsB2M, fit: fitB2M, band: bandB2M, left: 807, xr: [7.94, 14.76], xSplit: 3, yr: [6.7, 13.3] }
];
const PT = 1059, PH = 171, PW = 184, STRIP = 19;
txt(3, 1029, 'F', 'bold 19px "Liberation Sans"', '#000', 'left', 'middle');
scat.forEach(function (s, k) {
  const fmt = function (v) { return Math.abs(v - Math.round(v)) < 1e-6 ? String(Math.round(v)) : ''; };
  const common = {
    type: 'value', axisLine: { show: false },
    axisTick: { show: true, length: 3, lineStyle: { color: '#333' } },
    axisLabel: { color: '#4D4D4D', fontSize: 10.5, fontFamily: 'Liberation Sans', formatter: fmt },
    splitLine: { show: true, lineStyle: { color: '#EBEBEB', width: 1 } },
    minorTick: { show: false, splitNumber: 2 },
    minorSplitLine: { show: true, lineStyle: { color: '#F4F4F4', width: 0.6 } },
    name: 'Expression Level (log2 TPM)', nameLocation: 'middle',
    nameTextStyle: { fontSize: 13, color: '#000', fontFamily: 'Liberation Sans' }
  };
  const xa = Object.assign({}, common, { min: s.xr[0], max: s.xr[1], nameGap: 15 });
  xa.axisLabel = Object.assign({}, common.axisLabel, { margin: 4 });
  if (s.xInt) xa.interval = s.xInt; else xa.splitNumber = s.xSplit;
  const ya = Object.assign({}, common, { min: s.yr[0], max: s.yr[1], splitNumber: 4, offset: STRIP, nameGap: 17 });
  ya.axisLabel = Object.assign({}, common.axisLabel, { margin: 5 });
  const i = addGrid({ left: s.left, top: PT, width: PW, height: PH, show: true, borderColor: '#333', borderWidth: 1, backgroundColor: '#fff' }, xa, ya);
  series.push({ type: 'scatter', xAxisIndex: i, yAxisIndex: i, data: s.pts, symbolSize: 5.2, itemStyle: { color: '#000', opacity: 1 }, silent: true, animation: false, z: 2, large: false });
  const band = s.band;
  series.push({ type: 'custom', xAxisIndex: i, yAxisIndex: i, data: [[band[0][0], band[0][1]]], silent: true, animation: false, z: 3, clip: true,
    renderItem: function (params, api) {
      const pts = [];
      band.forEach(function (b) { pts.push(api.coord([b[0], b[2]])); });
      for (let j = band.length - 1; j >= 0; j--) pts.push(api.coord([band[j][0], band[j][1]]));
      return { type: 'polygon', shape: { points: pts, smooth: 0 }, style: { fill: 'rgba(153,153,153,0.42)' } };
    } });
  series.push({ type: 'line', xAxisIndex: i, yAxisIndex: i, data: s.fit, showSymbol: false, symbol: 'none', smooth: 0.3, lineStyle: { color: '#3366FF', width: 2 }, silent: true, animation: false, z: 4 });
  graphic.push({ type: 'rect', silent: true, z: 10, shape: { x: s.left, y: PT - 18, width: PW, height: 18 }, style: { fill: '#D9D9D9', stroke: '#333', lineWidth: 1 } });
  txt(s.left + PW / 2, PT - 9, genes[k], '10.5px "Liberation Sans"', '#1A1A1A', 'center', 'middle');
  graphic.push({ type: 'rect', silent: true, z: 10, shape: { x: s.left - STRIP, y: PT, width: STRIP, height: PH }, style: { fill: '#D9D9D9', stroke: '#333', lineWidth: 1 } });
  txt(s.left - STRIP / 2, PT + PH / 2, 'SEC61G', '10.5px "Liberation Sans"', '#1A1A1A', 'center', 'middle', Math.PI / 2);
  txt(s.left + PW - 3, PT + 11, corText[k], '10.5px "Liberation Sans"', '#FF0000', 'right', 'middle');
  txt(s.left + PW - 3, PT + 26, pText[k], '10.5px "Liberation Sans"', '#FF0000', 'right', 'middle');
});

const chart = echarts.init(document.getElementById('c'), null, { renderer: 'canvas' });
chart.setOption({
  backgroundColor: '#fff', animation: false,
  grid: grids, xAxis: xAxes, yAxis: yAxes, series: series,
  graphic: { elements: graphic }
});
</script></body></html>
